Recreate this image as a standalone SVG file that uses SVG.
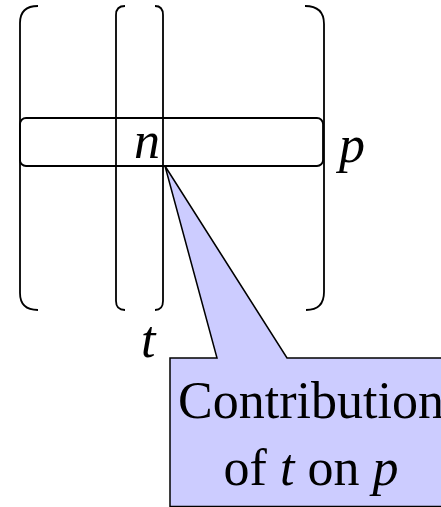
<svg xmlns="http://www.w3.org/2000/svg" width="441" height="507" viewBox="0 0 441 507">
<style>
.br{fill:none;stroke:#000;stroke-width:1.8}
.t{font-family:"Liberation Serif","Times New Roman",serif;font-size:52px;fill:#000}
.i{font-style:italic}
.callout{fill:#CCCCFF;stroke:#000;stroke-width:1.5}
</style>
<rect width="441" height="507" fill="#fff"/>
<g id="matrix">
<path class="br" d="M38,6 Q20,6 20,23 V293 Q20,310 38,310"/>
<path class="br" d="M305,6 Q324,6 324,24 V292 Q324,310 306,310"/>
</g>
<g id="column-t">
<path class="br" d="M125,6 Q116,6 116,15 V301 Q116,310 125,310"/>
<path class="br" d="M155,6 Q163,6 163,15 V301 Q163,310 155,310"/>
</g>
<g id="row-p">
<rect class="br" x="20" y="118" width="303" height="48" rx="6" ry="6"/>
</g>
<g id="labels">
<text class="t i" x="134" y="158">n</text>
<text class="t i" x="339" y="162">p</text>
<text class="t i" x="141" y="357">t</text>
</g>
<g id="callout">
<path class="callout" d="M170,358 L217,358 L165,166 L287,358 L450,358 L450,506.5 L170,506.5 Z"/>
<text class="t" x="311" y="418" text-anchor="middle">Contribution</text>
<text class="t" x="311" y="485" text-anchor="middle">of <tspan class="i">t</tspan> on <tspan class="i">p</tspan></text>
</g>
</svg>
